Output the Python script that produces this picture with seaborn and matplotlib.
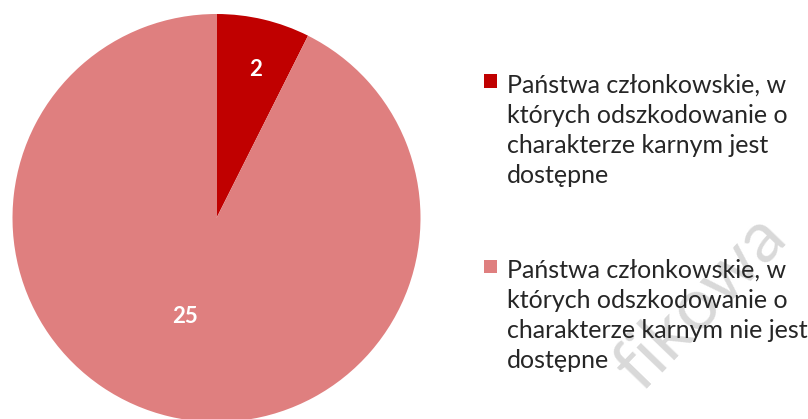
import matplotlib
matplotlib.use("Agg")
import matplotlib.pyplot as plt
from matplotlib.patches import Rectangle
import seaborn as sns
import numpy as np

categories = [
    "Państwa członkowskie, w\nktórych odszkodowanie o\ncharakterze karnym jest\ndostępne",
    "Państwa członkowskie, w\nktórych odszkodowanie o\ncharakterze karnym nie jest\ndostępne",
]
values = [2, 25]
colors = ["#C00000", "#DF7F7F"]
watermark = "fikowa"

sns.set_theme(style="white")
plt.rcParams['font.family'] = ['Lato', 'DejaVu Sans']

W, H = 808, 419
fig = plt.figure(figsize=(W / 100, H / 100), dpi=100)


def fx(px):
    return px / W


def fy(py):
    return 1 - py / H


# watermark (behind everything)
fig.text(fx(700), fy(302), watermark, fontsize=52, color="#D9D9D9",
         fontweight="normal", rotation=46, ha="center", va="center", zorder=0)

cx, cy, r = 216.5, 218, 204
ax = fig.add_axes([(cx - r) / W, (H - cy - r) / H, 2 * r / W, 2 * r / H])
ax.patch.set_alpha(0)
wedges, texts = ax.pie(values, colors=colors, startangle=90, counterclock=False,
                       radius=1, wedgeprops=dict(linewidth=0))
ax.set_xlim(-1, 1)
ax.set_ylim(-1, 1)
ax.set_aspect('equal')
ax.axis('off')

label_r = [0.752, 0.507]
label_dang = [-1.3, -4.4]
for w, v, lr, da in zip(wedges, values, label_r, label_dang):
    ang = np.deg2rad((w.theta1 + w.theta2) / 2 + da)
    ax.text(lr * np.cos(ang), lr * np.sin(ang), str(v), color="white",
            fontsize=16, fontweight="bold", ha="center", va="center")

# legend drawn manually: square marker aligned with first line
block_top_baseline = [93, 278]
line_step = 30
for cat, col, b0 in zip(categories, colors, block_top_baseline):
    fig.add_artist(Rectangle((fx(483.5), fy(b0 - 5)), 13.5 / W, 13.5 / H,
                             transform=fig.transFigure, color=col, lw=0))
    for i, line in enumerate(cat.split("\n")):
        fig.text(fx(507), fy(b0 + i * line_step), line, fontsize=18,
                 color="#262626", ha="left", va="baseline")

fig.savefig("out.png", dpi=100)
